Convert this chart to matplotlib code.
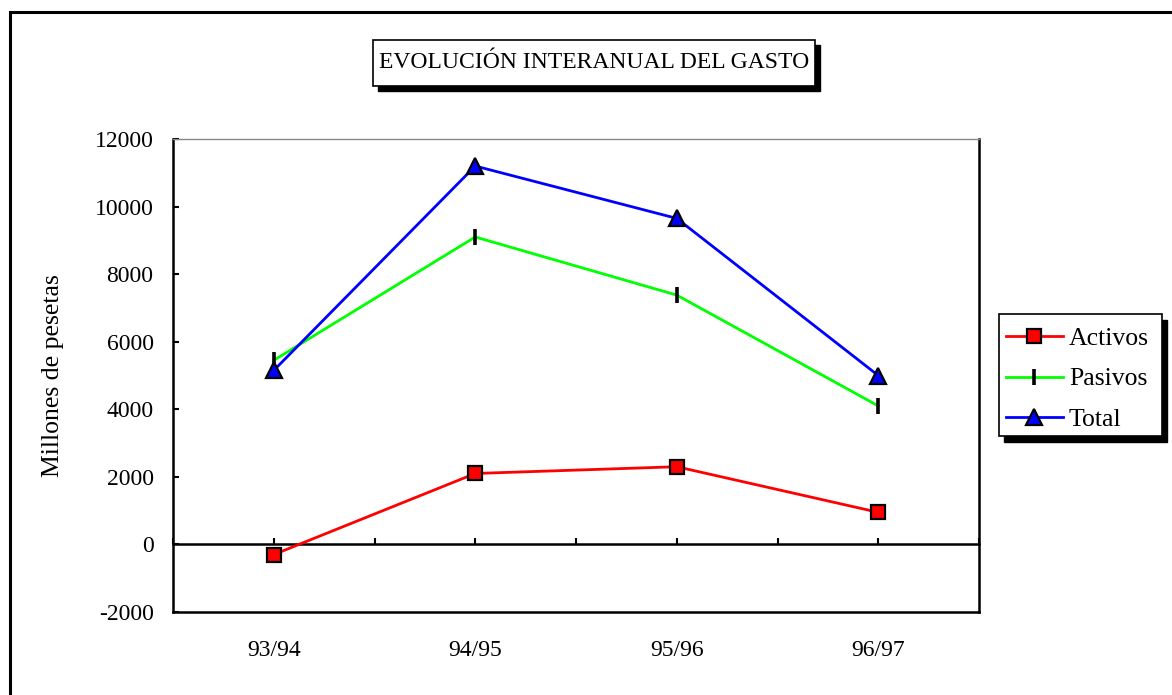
import matplotlib
matplotlib.use("Agg")
import matplotlib.pyplot as plt
from matplotlib.patches import Rectangle

plt.rcParams['font.family'] = ['Liberation Serif', 'DejaVu Serif']
plt.rcParams['axes.unicode_minus'] = False

categories = ["93/94", "94/95", "95/96", "96/97"]
activos = [-300, 2100, 2300, 950]
pasivos = [5450, 9100, 7380, 4100]
total = [5150, 11200, 9650, 5000]
yticks = [-2000, 0, 2000, 4000, 6000, 8000, 10000, 12000]
title = "EVOLUCIÓN INTERANUAL DEL GASTO"
ylabel = "Millones de pesetas"

W, H = 1172, 695
fig = plt.figure(figsize=(W / 100, H / 100), dpi=100)

def fx(px):
    return px / W

def fy(py):
    return 1 - py / H

# outer frame
fig.add_artist(Rectangle((fx(10), fy(720)), fx(1200), fy(12) - fy(720),
                         transform=fig.transFigure, fill=False,
                         edgecolor='black', linewidth=2.2, zorder=0.5))

ax = fig.add_axes([fx(173), fy(612), fx(979) - fx(173), fy(139) - fy(612)])
x = list(range(len(categories)))

ax.plot(x, activos, color='#FF0000', lw=2.0, marker='s', ms=10,
        mfc='#FF0000', mec='black', mew=1.6, label='Activos', zorder=3)
ax.plot(x, pasivos, color='#00FF00', lw=2.0, marker='|', ms=12,
        mec='black', mew=2.6, label='Pasivos', zorder=3)
ax.plot(x, total, color='#0000FF', lw=2.0, marker='^', ms=12,
        mfc='#0000FF', mec='black', mew=1.6, label='Total', zorder=3)

ax.set_xlim(-0.5, len(categories) - 0.5)
ax.set_ylim(yticks[0], yticks[-1])
ax.set_yticks(yticks)
ax.set_xticks(x)
ax.set_xticklabels(categories)
ax.tick_params(axis='x', length=0, pad=20, labelsize=17)
ax.tick_params(axis='y', direction='in', length=4, width=1.5, pad=14,
               labelsize=17)
for s in ['left', 'bottom', 'right']:
    ax.spines[s].set_linewidth(1.8)
    ax.spines[s].set_color('black')
ax.spines['top'].set_linewidth(1.0)
ax.spines['top'].set_color('#888888')

ax.set_ylabel(ylabel, fontsize=18.5)
ax.yaxis.set_label_coords(-0.135, 0.5)

# zero line with category ticks
zpos = (0 - yticks[0]) / (yticks[-1] - yticks[0])
sec = ax.secondary_xaxis(zpos)
sec.set_xticks([i * 0.5 - 0.5 for i in range(2 * len(categories) + 1)])
sec.set_xticklabels([])
sec.tick_params(direction='in', length=4.5, width=1.5)
sec.spines['bottom'].set_linewidth(1.8)

# title box with shadow
tx0, ty0, tx1, ty1 = 373, 40, 815, 86
fig.add_artist(Rectangle((fx(tx0 + 5), fy(ty1 + 5)), fx(tx1 - tx0), fy(ty0) - fy(ty1),
                         transform=fig.transFigure, facecolor='black',
                         edgecolor='black', zorder=1))
fig.add_artist(Rectangle((fx(tx0), fy(ty1)), fx(tx1 - tx0), fy(ty0) - fy(ty1),
                         transform=fig.transFigure, facecolor='white',
                         edgecolor='black', linewidth=1.2, zorder=1.1))
fig.text(fx((tx0 + tx1) / 2), fy((ty0 + ty1) / 2), title, ha='center', va='center',
         fontsize=17, zorder=2)

# legend box with shadow
lx0, ly0, lx1, ly1 = 999, 314, 1162, 436
fig.add_artist(Rectangle((fx(lx0 + 5), fy(ly1 + 6)), fx(lx1 - lx0), fy(ly0) - fy(ly1),
                         transform=fig.transFigure, facecolor='black',
                         edgecolor='black', zorder=1))
fig.add_artist(Rectangle((fx(lx0), fy(ly1)), fx(lx1 - lx0), fy(ly0) - fy(ly1),
                         transform=fig.transFigure, facecolor='white',
                         edgecolor='black', linewidth=1.2, zorder=1.1))
handles, labels = ax.get_legend_handles_labels()
leg = fig.legend(handles, labels, loc='center left',
                 bbox_to_anchor=(fx(1006), fy((ly0 + ly1) / 2 + 4)),
                 bbox_transform=fig.transFigure, frameon=False, fontsize=18.5,
                 borderpad=0, handlelength=2.2, handletextpad=0.25,
                 labelspacing=0.7, borderaxespad=0)
leg.set_zorder(10)

fig.savefig("out.png", dpi=100)
